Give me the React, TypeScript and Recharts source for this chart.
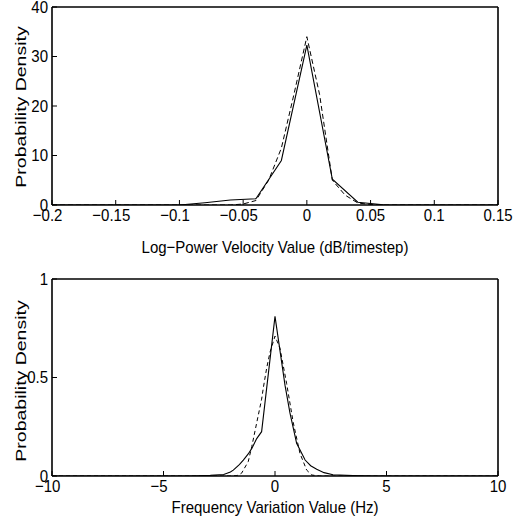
import React from 'react';
import { LineChart, Line, XAxis, YAxis } from 'recharts';

// ---------- data ----------
const topXTicks = [-0.2, -0.15, -0.1, -0.05, 0, 0.05, 0.1, 0.15];
const topYTicks = [0, 10, 20, 30, 40];
const botXTicks = [-10, -5, 0, 5, 10];
const botYTicks = [0, 0.5, 1];

// Top panel: log-power velocity densities
const topSolidX = [-0.2, -0.1, -0.08, -0.06, -0.04, -0.02, 0, 0.02, 0.04, 0.06, 0.08, 0.15];
const topSolidY = [0, 0, 0.45, 1.0, 1.25, 9, 32.3, 5.2, 0.55, 0.05, 0, 0];
const topDashX = [-0.2, -0.06, -0.05, -0.04, -0.03, -0.02, -0.01, 0, 0.01, 0.02, 0.03, 0.04, 0.05, 0.06, 0.15];
const topDashY = [0, 0, 0.2, 0.9, 5.0, 11.5, 22.5, 34, 22.3, 5.0, 2.0, 0.4, 0.1, 0, 0];

// Bottom panel: frequency variation densities
const botSolidX = [-10, -4, -3.5, -2.9, -2.3, -2.0, -1.87, -1.6, -1.42, -1.2, -1.04, -0.82, -0.6, 0, 0.45, 0.67, 0.97, 1.35, 1.6, 1.87, 2.2, 2.6, 3.5, 4.5, 10];
const botSolidY = [0, 0, 0.001, 0.003, 0.008, 0.02, 0.03, 0.058, 0.081, 0.112, 0.14, 0.19, 0.225, 0.81, 0.46, 0.32, 0.166, 0.081, 0.052, 0.034, 0.017, 0.006, 0.002, 0, 0];
const botDashX = [-10, -2, -1.7, -1.5, -1.2, -1.04, -0.82, -0.6, -0.52, -0.37, -0.22, 0, 0.22, 0.37, 0.52, 0.82, 1.12, 1.42, 1.65, 2, 10];
const botDashY = [0, 0, 0.002, 0.014, 0.073, 0.15, 0.27, 0.39, 0.45, 0.55, 0.63, 0.71, 0.65, 0.56, 0.47, 0.27, 0.115, 0.03, 0.005, 0, 0];

const zip = (xs: number[], ys: number[]) => xs.map((x, i) => ({ x, y: ys[i] }));

// ---------- styling ----------
const FONT = '"Liberation Sans", Arial, Helvetica, sans-serif';
const SY = 1.13;
const FS = 15;
const FRAME = { stroke: '#000', strokeWidth: 1.6 };

const fmt = (v: number) => {
  const s = String(v);
  return s.startsWith('-') ? '\u2212' + s.slice(1) : s;
};

function XTick(props: any) {
  const { x, y, payload } = props;
  const v = payload.value as number;
  const neg = v < 0;
  return (
    <g>
      <line x1={x} y1={y} x2={x} y2={y - 5} stroke="#000" strokeWidth={1} />
      <g transform={`translate(${x + (neg ? -4.4 : 0)},${y + 10}) scale(1,${SY})`}>
        <text x={0} y={0} dy="0.35em" textAnchor="middle" fontSize={FS} fontFamily={FONT} fill="#000">
          {fmt(v)}
        </text>
      </g>
    </g>
  );
}

function YTick(props: any) {
  const { x, y, payload } = props;
  const v = payload.value as number;
  return (
    <g>
      <line x1={x} y1={y} x2={x + 5} y2={y} stroke="#000" strokeWidth={1} />
      <g transform={`translate(${x - 4},${y}) scale(1,${SY})`}>
        <text x={0} y={0} dy="0.35em" textAnchor="end" fontSize={FS} fontFamily={FONT} fill="#000">
          {fmt(v)}
        </text>
      </g>
    </g>
  );
}

type PanelProps = {
  top: number;
  height: number;
  margin: { top: number; right: number; bottom: number; left: number };
  xDomain: [number, number];
  yDomain: [number, number];
  xTicks: number[];
  yTicks: number[];
  solid: { x: number; y: number }[];
  dashed: { x: number; y: number }[];
  dash: string;
};

function Panel(p: PanelProps) {
  return (
    <div style={{ position: 'absolute', left: 0, top: p.top }}>
      <LineChart width={517} height={p.height} margin={p.margin}>
        <XAxis
          dataKey="x"
          type="number"
          domain={p.xDomain}
          ticks={p.xTicks}
          allowDataOverflow
          height={1}
          tickSize={0}
          tickMargin={0}
          tickLine={false}
          axisLine={FRAME}
          tick={<XTick />}
          interval={0}
        />
        <XAxis
          xAxisId="top"
          orientation="top"
          mirror
          type="number"
          domain={p.xDomain}
          ticks={p.xTicks}
          allowDataOverflow
          height={1}
          tickSize={5}
          tick={false}
          tickLine={{ stroke: '#000' }}
          axisLine={FRAME}
          interval={0}
        />
        <YAxis
          type="number"
          domain={p.yDomain}
          ticks={p.yTicks}
          allowDataOverflow
          width={1}
          tickSize={0}
          tickMargin={0}
          tickLine={false}
          axisLine={FRAME}
          tick={<YTick />}
          interval={0}
        />
        <YAxis
          yAxisId="right"
          orientation="right"
          mirror
          type="number"
          domain={p.yDomain}
          ticks={p.yTicks}
          allowDataOverflow
          width={1}
          tickSize={5}
          tick={false}
          tickLine={{ stroke: '#000' }}
          axisLine={FRAME}
          interval={0}
        />
        <Line
          data={p.dashed}
          dataKey="y"
          type="linear"
          stroke="#000"
          strokeWidth={1}
          strokeDasharray={p.dash}
          dot={false}
          activeDot={false}
          isAnimationActive={false}
        />
        <Line
          data={p.solid}
          dataKey="y"
          type="linear"
          stroke="#000"
          strokeWidth={1.1}
          dot={false}
          activeDot={false}
          isAnimationActive={false}
        />
      </LineChart>
    </div>
  );
}

function HText({ x, y, children }: { x: number; y: number; children: React.ReactNode }) {
  return (
    <g transform={`translate(${x},${y}) scale(1,${SY})`}>
      <text x={0} y={0} dy="0.35em" textAnchor="middle" fontSize={FS} fontFamily={FONT} fill="#000">
        {children}
      </text>
    </g>
  );
}

function VText({ x, y, children }: { x: number; y: number; children: React.ReactNode }) {
  return (
    <g transform={`translate(${x},${y}) rotate(-90) scale(1.3,1)`}>
      <text x={0} y={0} dy="0.35em" textAnchor="middle" fontSize={FS} fontFamily={FONT} fill="#000">
        {children}
      </text>
    </g>
  );
}

export default function App() {
  return (
    <div style={{ position: 'absolute', left: 0, top: 0, width: 517, height: 529, background: '#fff', overflow: 'hidden' }}>
      <Panel
        top={0}
        height={262}
        margin={{ top: 7, right: 19, bottom: 56, left: 51 }}
        xDomain={[-0.2, 0.15]}
        yDomain={[0, 40]}
        xTicks={topXTicks}
        yTicks={topYTicks}
        solid={zip(topSolidX, topSolidY)}
        dashed={zip(topDashX, topDashY)}
        dash="5 3"
      />
      <Panel
        top={262}
        height={267}
        margin={{ top: 17, right: 19, bottom: 52, left: 51 }}
        xDomain={[-10, 10]}
        yDomain={[0, 1]}
        xTicks={botXTicks}
        yTicks={botYTicks}
        solid={zip(botSolidX, botSolidY)}
        dashed={zip(botDashX, botDashY)}
        dash="4 3"
      />
      <svg width={517} height={529} style={{ position: 'absolute', left: 0, top: 0, pointerEvents: 'none' }}>
        <HText x={275} y={247}>Log{'\u2212'}Power Velocity Value (dB/timestep)</HText>
        <HText x={275} y={507}>Frequency Variation Value (Hz)</HText>
        <VText x={21} y={107}>Probability Density</VText>
        <VText x={21} y={381}>Probability Density</VText>
      </svg>
    </div>
  );
}
